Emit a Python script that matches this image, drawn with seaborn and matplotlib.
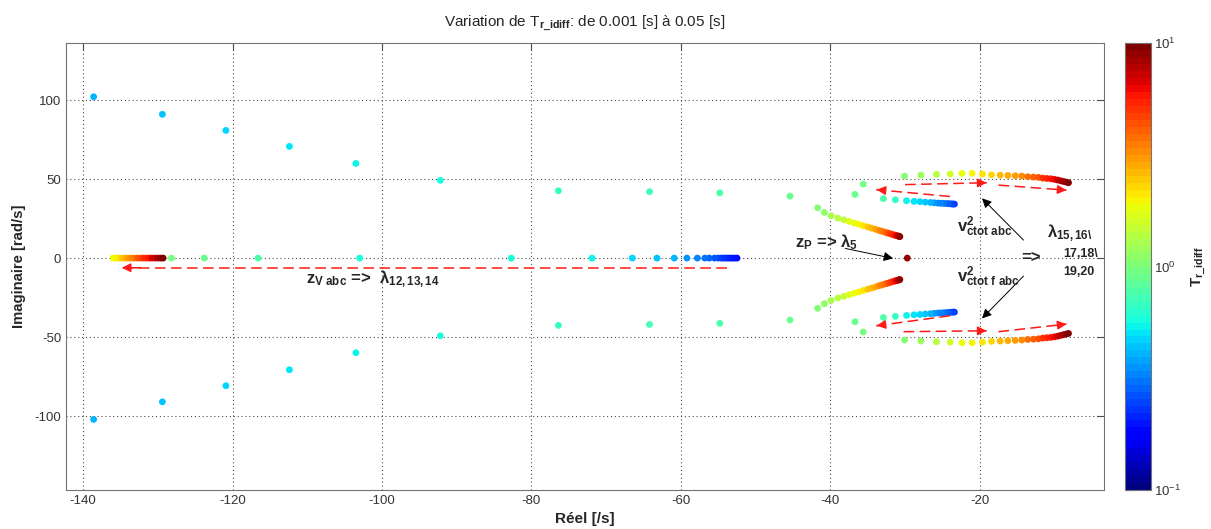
import numpy as np
import pandas as pd
import matplotlib
matplotlib.use('Agg')
import matplotlib.pyplot as plt
from matplotlib.colors import LogNorm
import seaborn as sns

# --- Valeurs propres (partie reelle, partie imaginaire, log10(T_r_idiff)) ---

# branche sur l'axe reel (lambda 12,13,14), du bleu vers le rouge
reel_x = [-52.5, -52.8, -53.1, -53.4, -53.7, -54.0, -54.3, -54.6, -55.0, -55.5,
          -56.2, -56.8, -57.8, -59.2, -60.9, -63.2, -66.5, -71.9, -82.7, -103.0,
          -116.6, -123.8, -128.2,
          -136.0, -135.6, -135.2, -134.8, -134.4, -134.0, -133.6, -133.2, -132.8,
          -132.4, -132.0, -131.6, -131.2, -130.8, -130.4, -130.0, -129.6, -129.3]
reel_logt = [-0.72, -0.71, -0.70, -0.69, -0.68, -0.66, -0.65, -0.63, -0.61, -0.58,
             -0.55, -0.52, -0.48, -0.45, -0.40, -0.36, -0.32, -0.28, -0.25, -0.22,
             -0.12, -0.06, -0.02,
             0.25, 0.29, 0.34, 0.38, 0.43, 0.47, 0.51, 0.56, 0.60,
             0.65, 0.69, 0.74, 0.78, 0.82, 0.87, 0.91, 0.96, 0.99]

# branche complexe venant de la gauche (partie sup., la partie inf. est conjuguee)
br1_x = [-138.6, -129.4, -120.9, -112.4, -103.5, -92.2, -76.4, -64.2, -54.8, -45.4,
         -41.7, -40.8, -39.9, -39.0, -38.2, -37.5, -36.8, -36.2, -35.6, -35.0,
         -34.5, -34.0, -33.5, -33.1, -32.7, -32.4, -32.1, -31.8, -31.5, -31.3,
         -31.1, -30.9, -30.8, -30.7]
br1_y = [102.1, 91.0, 80.8, 70.7, 59.9, 49.2, 42.6, 42.0, 41.3, 39.2,
         31.8, 28.9, 26.8, 25.3, 24.2, 23.2, 22.2, 21.4, 20.5, 19.7,
         19.0, 18.3, 17.5, 17.0, 16.4, 16.0, 15.6, 15.1, 14.7, 14.4,
         14.2, 13.9, 13.8, 13.6]
br1_logt = [-0.40, -0.35, -0.32, -0.30, -0.28, -0.23, -0.16, -0.14, -0.10, -0.06,
            0.02, 0.06, 0.10, 0.14, 0.18, 0.22, 0.26, 0.30, 0.34, 0.38,
            0.42, 0.46, 0.50, 0.54, 0.58, 0.62, 0.66, 0.70, 0.74, 0.78,
            0.82, 0.86, 0.90, 0.94]

# branche v2 ctot (bleu -> gauche -> arc superieur -> rouge)
br2_x = [-23.4, -23.6, -23.8, -24.1, -24.4, -24.8, -25.2, -25.6, -26.1, -26.6,
         -27.3, -28.0, -28.8, -29.8, -31.3, -32.9, -36.7, -35.6,
         -30.07, -27.88, -25.79, -23.96, -22.39, -21.02, -19.64, -18.43, -17.27, -16.24,
         -15.26, -14.37, -13.57, -12.81, -12.14, -11.56, -11.02, -10.49, -10.0, -9.55,
         -9.15, -8.8, -8.44, -8.13]
br2_y = [34.2, 34.2, 34.3, 34.4, 34.5, 34.6, 34.7, 34.8, 35.0, 35.2,
         35.4, 35.7, 35.9, 36.3, 36.9, 37.6, 40.3, 46.8,
         51.9, 52.5, 53.0, 53.2, 53.6, 53.6, 53.2, 52.7, 52.5, 52.3,
         52.1, 51.9, 51.5, 51.3, 51.1, 50.6, 50.4, 50.2, 49.8, 49.4,
         48.9, 48.5, 48.1, 47.7]
br2_logt = [-0.64, -0.62, -0.60, -0.58, -0.56, -0.53, -0.50, -0.47, -0.44, -0.40,
            -0.37, -0.34, -0.30, -0.26, -0.18, -0.12, -0.06, -0.02,
            0.02, 0.08, 0.14, 0.20, 0.25, 0.29, 0.33, 0.37, 0.41, 0.45,
            0.49, 0.53, 0.57, 0.61, 0.65, 0.69, 0.73, 0.77, 0.81, 0.85,
            0.89, 0.92, 0.96, 0.99]

# z_P -> lambda 5
zp_x = [-29.7]
zp_logt = [0.94]

xticks = [-140, -120, -100, -80, -60, -40, -20]
yticks = [-100, -50, 0, 50, 100]
cb_ticks = [0.1, 1, 10]
cb_ticklabels = ['$10^{-1}$', '$10^{0}$', '$10^{1}$']

# --- table pour seaborn ---
parts = [pd.DataFrame({'re': reel_x, 'im': 0.0, 'logt': reel_logt}),
         pd.DataFrame({'re': zp_x, 'im': 0.0, 'logt': zp_logt})]
for bx, by, bl in [(br1_x, br1_y, br1_logt), (br2_x, br2_y, br2_logt)]:
    parts.append(pd.DataFrame({'re': bx, 'im': by, 'logt': bl}))
    parts.append(pd.DataFrame({'re': bx, 'im': [-v for v in by], 'logt': bl}))
df = pd.concat(parts, ignore_index=True)
df['T'] = 10.0 ** df['logt']

sns.set_style('white')
plt.rcParams['font.family'] = ['Liberation Sans', 'DejaVu Sans']
plt.rcParams['mathtext.fontset'] = 'custom'
plt.rcParams['mathtext.rm'] = 'Liberation Sans'
plt.rcParams['mathtext.it'] = 'Liberation Sans:italic'
plt.rcParams['mathtext.bf'] = 'Liberation Sans:bold'
plt.rcParams['axes.unicode_minus'] = False

cmap = plt.get_cmap('jet', 64)
norm = LogNorm(vmin=0.1, vmax=10)

fig = plt.figure(figsize=(12.11, 5.29), dpi=100)
ax = fig.add_axes([0.0545, 0.0737, 0.857, 0.8443])
cax = fig.add_axes([0.929, 0.0737, 0.0215, 0.8443])

sns.scatterplot(data=df, x='re', y='im', hue='T', palette=cmap, hue_norm=norm,
                s=24, linewidth=0, legend=False, ax=ax, zorder=3)

ax.set_xlim(-142.3, -3.4)
ax.set_ylim(-146.8, 135.9)
ax.set_xticks(xticks)
ax.set_yticks(yticks)
ax.grid(True, linestyle=(0, (1, 2.5)), color='0.3', linewidth=0.8)
for sp in ax.spines.values():
    sp.set_color('0.45')
ax.tick_params(direction='in', length=5, color='0.3', labelsize=9.5, labelcolor='0.2',
               top=True, right=True)
ax.set_xlabel('Réel [/s]', fontsize=11, fontweight='bold', color='0.15', labelpad=4)
ax.set_ylabel('Imaginaire [rad/s]', fontsize=10.7, fontweight='bold', color='0.15', labelpad=6)
ax.set_title('Variation de T' + r'$_{\mathbf{r\_idiff}}$' + ': de 0.001 [s] à 0.05 [s]',
             fontsize=11, pad=12)

# fleches rouges en tirets (sens de variation)
red_arrows = [((-53.8, -6.1), (-135.2, -6.1)),
              ((-24.0, 39.0), (-33.8, 43.3)),
              ((-30.0, 46.5), (-19.1, 47.7)),
              ((-17.5, 46.2), (-8.4, 43.0)),
              ((-24.0, -36.5), (-33.8, -42.8)),
              ((-30.2, -46.6), (-19.1, -46.0)),
              ((-17.5, -46.6), (-8.4, -41.8))]
for (x0, y0), (x1, y1) in red_arrows:
    ax.plot([x0, x1], [y0, y1], color='#ff1a1a', lw=1.1, linestyle=(0, (7, 3.5)), zorder=4)
    ax.annotate('', xy=(x1, y1), xytext=(x1 - 0.04 * (x1 - x0), y1 - 0.04 * (y1 - y0)),
                arrowprops=dict(arrowstyle='-|>', color='#ff1a1a', lw=1.1, mutation_scale=13),
                zorder=4)

# fleches noires
black_arrows = [((-38.0, 6.1), (-31.6, -0.2)),
                ((-14.15, 11.4), (-19.7, 37.8)),
                ((-14.15, -11.4), (-19.7, -38.2))]
for p0, p1 in black_arrows:
    ax.annotate('', xy=p1, xytext=p0,
                arrowprops=dict(arrowstyle='-|>', color='k', lw=0.7, mutation_scale=14,
                                shrinkA=0, shrinkB=0), zorder=5)

txt = dict(fontsize=12, fontweight='bold', zorder=6)
ax.text(-110.2, -15.8, r'$\mathbf{z_{V\ abc}}$ =>  $\mathbf{\lambda_{12,13,14}}$', **txt)
ax.text(-44.7, 7.0, r'$\mathbf{z_{P}}$ => $\mathbf{\lambda_{5}}$', **txt)
ax.text(-23.0, 16.5, r'$\mathbf{v^{2}_{ctot\ abc}}$', **txt)
ax.text(-23.0, -15.2, r'$\mathbf{v^{2}_{ctot\ f\ abc}}$', **txt)
ax.text(-14.4, 0.3, '=>', va='center', **txt)
ax.text(-11.0, 13.3, r'$\mathbf{\lambda_{15,16\backslash}}$', **txt)
ax.text(-8.8, 0.6, '17,18\\', fontsize=9, fontweight='bold', zorder=6)
ax.text(-8.8, -10.8, '19,20', fontsize=9, fontweight='bold', zorder=6)

# barre de couleur
sm = plt.cm.ScalarMappable(norm=norm, cmap=cmap)
cb = fig.colorbar(sm, cax=cax)
cb.ax.minorticks_off()
cb.set_ticks(cb_ticks)
cb.set_ticklabels(cb_ticklabels)
cb.ax.tick_params(direction='in', length=4, color='0.3', labelsize=9.5, labelcolor='0.2',
                  left=True, right=True, pad=2)
cb.outline.set_edgecolor('0.45')
cb.set_label(r'$\mathbf{T_{r\_idiff}}$', fontsize=11, labelpad=6)

fig.savefig('out.png', dpi=100)
